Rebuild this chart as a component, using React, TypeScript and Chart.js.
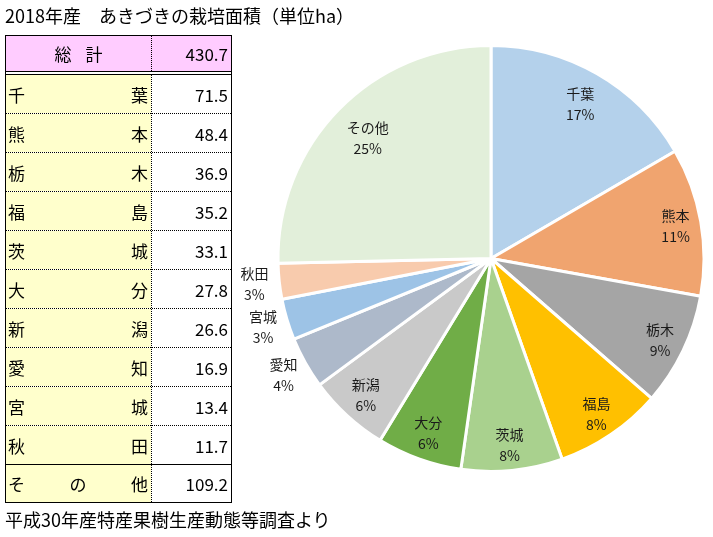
import React, { useEffect, useRef } from "react";
import { Chart, registerables } from "chart.js";

Chart.register(...registerables);

const titleText = "2018年産　あきづきの栽培面積（単位ha）";
const sourceText = "平成30年産特産果樹生産動態等調査より";
const totalLabel = ["総", "計"];
const totalValue = "430.7";

const prefectures = ["千葉", "熊本", "栃木", "福島", "茨城", "大分", "新潟", "愛知", "宮城", "秋田", "その他"];
const areas = [71.5, 48.4, 36.9, 35.2, 33.1, 27.8, 26.6, 16.9, 13.4, 11.7, 109.2];
const sliceColors = [
  "#B4D1EB", "#F0A46F", "#A5A5A5", "#FFC000", "#A9D18E", "#70AD47",
  "#C9C9C9", "#ADB9CA", "#9DC3E6", "#F8CBAD", "#E2EFDA",
];
const labelRadius = [0.84, 0.88, 0.88, 0.88, 0.88, 0.87, 0.87, 1, 1, 1, 0.81];

const CJK = '"Noto Sans CJK JP", "Noto Sans", sans-serif';
const DOT_H = "repeating-linear-gradient(to right, #000 0px, #000 1px, transparent 1px, transparent 2px)";
const DOT_V = "repeating-linear-gradient(to bottom, #000 0px, #000 1px, transparent 1px, transparent 2px)";

const labelPlugin = {
  id: "sliceLabels",
  afterDatasetsDraw(chart: any) {
    const ctx = chart.ctx;
    const meta = chart.getDatasetMeta(0);
    const data = chart.data.datasets[0].data as number[];
    const total = data.reduce((a: number, b: number) => a + b, 0);
    ctx.save();
    ctx.font = `14px ${CJK}`;
    ctx.fillStyle = "#1a1a1a";
    ctx.textAlign = "center";
    ctx.textBaseline = "middle";
    meta.data.forEach((arc: any, i: number) => {
      const { x, y, startAngle, endAngle, outerRadius } = arc.getProps(
        ["x", "y", "startAngle", "endAngle", "outerRadius"], true);
      const mid = (startAngle + endAngle) / 2;
      const pct = Math.round((data[i] / total) * 100);
      let dist = outerRadius * labelRadius[i];
      if (labelRadius[i] >= 1) dist = outerRadius + 25;
      const lx = x + Math.cos(mid) * dist;
      const ly = y + Math.sin(mid) * dist;
      ctx.fillText(String(chart.data.labels[i]), lx, ly - 10);
      ctx.fillText(pct + "%", lx, ly + 11);
    });
    ctx.restore();
  },
};

function NameCell({ name }: { name: string }) {
  const chars = Array.from(name);
  return (
    <div style={{ display: "flex", justifyContent: "space-between", padding: "0 3px 0 2px", height: "100%", alignItems: "center" }}>
      {chars.map((c, i) => (
        <span key={i}>{c}</span>
      ))}
    </div>
  );
}

export default function App() {
  const canvasRef = useRef<HTMLCanvasElement | null>(null);

  useEffect(() => {
    if (!canvasRef.current) return;
    const chart = new Chart(canvasRef.current, {
      type: "pie",
      data: {
        labels: prefectures,
        datasets: [
          {
            data: areas,
            backgroundColor: sliceColors,
            borderColor: "#FFFFFF",
            borderWidth: 3,
          },
        ],
      },
      options: {
        responsive: false,
        animation: false,
        devicePixelRatio: 1,
        radius: 213,
        layout: { padding: { left: 269, right: 0, top: 1, bottom: 21 } },
        plugins: {
          legend: { display: false },
          tooltip: { enabled: false },
          title: { display: false },
        },
      } as any,
      plugins: [labelPlugin],
    });
    return () => chart.destroy();
  }, []);

  const rowTop = 75;
  const rowH = 39;
  const left = 5;
  const right = 232;
  const divX = 151;
  const n = prefectures.length;
  const width = right - left;

  const lines: React.ReactNode[] = [];
  // outer border
  lines.push(<div key="ob" style={{ position: "absolute", left, top: 35, width, height: 503 - 35, boxSizing: "border-box", border: "1px solid #000" }} />);
  // double line below header
  lines.push(<div key="d1" style={{ position: "absolute", left, top: 71, width, height: 1, background: "#000" }} />);
  lines.push(<div key="d2" style={{ position: "absolute", left, top: 74, width, height: 1, background: "#000" }} />);
  // vertical dotted divider
  lines.push(<div key="vd1" style={{ position: "absolute", left: divX, top: 36, width: 1, height: 35, background: DOT_V }} />);
  lines.push(<div key="vd2" style={{ position: "absolute", left: divX, top: 75, width: 1, height: 502 - 75, background: DOT_V }} />);
  // row separators
  for (let i = 1; i < n; i++) {
    const y = rowTop + i * rowH - 1;
    const solid = i === n - 1;
    lines.push(<div key={"r" + i} style={{ position: "absolute", left: left + 1, top: y, width: width - 2, height: 1, background: solid ? "#000" : DOT_H }} />);
  }

  return (
    <div style={{ position: "fixed", left: 0, top: 0, width: 713, height: 537, background: "#FFFFFF", overflow: "hidden", fontFamily: CJK, color: "#000" }}>
      <canvas ref={canvasRef} width={713} height={537} style={{ position: "absolute", left: 0, top: 0, width: 713, height: 537 }} />
      <div style={{ position: "absolute", left: 5, top: 3, fontSize: 18, lineHeight: "24px", whiteSpace: "nowrap" }}>{titleText}</div>
      {/* header */}
      <div style={{ position: "absolute", left: left + 1, top: 36, width: width - 2, height: 35, background: "#FFCCFF", fontSize: 17 }}>
        <div style={{ position: "absolute", left: 0, top: 0, width: divX - left - 1, height: 35, display: "flex", justifyContent: "center", alignItems: "center", gap: 14 }}>
          <span>{totalLabel[0]}</span><span>{totalLabel[1]}</span>
        </div>
        <div style={{ position: "absolute", right: 3, top: 0, height: 35, display: "flex", alignItems: "center" }}>{totalValue}</div>
      </div>
      {prefectures.map((p, i) => {
        const top = rowTop + i * rowH;
        const h = i === n - 1 ? 502 - top : rowH - 1;
        return (
          <div key={p} style={{ position: "absolute", left: left + 1, top, width: width - 2, height: h, fontSize: 17 }}>
            <div style={{ position: "absolute", left: 0, top: 0, width: divX - left - 1, bottom: 0, background: "#FFFFCC" }}>
              <NameCell name={p} />
            </div>
            <div style={{ position: "absolute", right: 3, top: 0, bottom: 0, display: "flex", alignItems: "center" }}>{areas[i].toFixed(1)}</div>
          </div>
        );
      })}
      {lines}
      <div style={{ position: "absolute", left: 5, top: 507, fontSize: 18, lineHeight: "24px", whiteSpace: "nowrap" }}>{sourceText}</div>
    </div>
  );
}
